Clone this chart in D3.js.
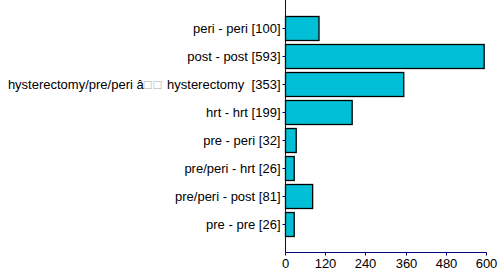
<!DOCTYPE html>
<html>
<head>
<meta charset="utf-8">
<script src="https://cdn.jsdelivr.net/npm/d3@7"></script>
<style>
  body { margin: 0; background: #fff; }
  text { font-family: "Liberation Sans", Arial, sans-serif; font-size: 13px; white-space: pre; }
</style>
</head>
<body>
<svg id="container" width="500" height="276"></svg>
<script>
const categories = [
  'peri - peri [100]',
  'post - post [593]',
  'hysterectomy/pre/peri â\u25A1\u25A1 hysterectomy  [353]',
  'hrt - hrt [199]',
  'pre - peri [32]',
  'pre/peri - hrt [26]',
  'pre/peri - post [81]',
  'pre - pre [26]'
];
const values = [100, 593, 353, 199, 32, 26, 81, 26];
const xTicks = [0, 120, 240, 360, 480, 600];

const svg = d3.select('#container');
const left = 285.5, right = 486.5, bottom = 252.5;

const x = d3.scaleLinear().domain([0, 600]).range([left, right]);
const y = d3.scaleBand().domain(categories).range([14, 238]).paddingInner(4 / 28).paddingOuter(2 / 28);

// bars
svg.append('g')
  .selectAll('rect')
  .data(values)
  .enter()
  .append('rect')
  .attr('x', left)
  .attr('y', (d, i) => Math.round(y(categories[i])) + 0.5)
  .attr('width', d => x(d) - left)
  .attr('height', Math.round(y.bandwidth()))
  .attr('fill', '#00bfd6')
  .attr('stroke', '#000')
  .attr('stroke-width', 1.3);

const axisColor = '#000080';

// y axis
const yg = svg.append('g');
yg.append('line')
  .attr('x1', left).attr('x2', left)
  .attr('y1', 0).attr('y2', bottom)
  .attr('stroke', axisColor);
const ylab = yg.selectAll('g.cat')
  .data(categories)
  .enter()
  .append('g')
  .attr('class', 'cat')
  .attr('transform', d => `translate(0,${Math.round(y(d) + y.bandwidth() / 2) + 0.5})`);
ylab.append('line')
  .attr('x1', left - 3).attr('x2', left)
  .attr('stroke', axisColor);
ylab.append('text')
  .attr('x', left - 5)
  .attr('dy', '0.35em')
  .attr('text-anchor', 'end')
  .attr('fill', '#000')
  .each(function (d) {
    const t = d3.select(this);
    const parts = d.split(/(\u25A1+)/);
    parts.forEach(p => {
      const ts = t.append('tspan').text(p);
      if (/\u25A1/.test(p)) ts.attr('fill', '#aaa').attr('letter-spacing', '2px');
    });
  });

// x axis
const xg = svg.append('g');
xg.append('line')
  .attr('x1', left).attr('x2', right)
  .attr('y1', bottom).attr('y2', bottom)
  .attr('stroke', axisColor);
const xt = xg.selectAll('g.tick')
  .data(xTicks)
  .enter()
  .append('g')
  .attr('transform', d => `translate(${Math.round(x(d) - 0.5) + 0.5},0)`);
xt.append('line')
  .attr('y1', bottom).attr('y2', bottom + 3)
  .attr('stroke', axisColor);
xt.append('text')
  .attr('y', bottom + 15)
  .attr('text-anchor', 'middle')
  .attr('fill', '#000')
  .text(d => d);
</script>
</body>
</html>
